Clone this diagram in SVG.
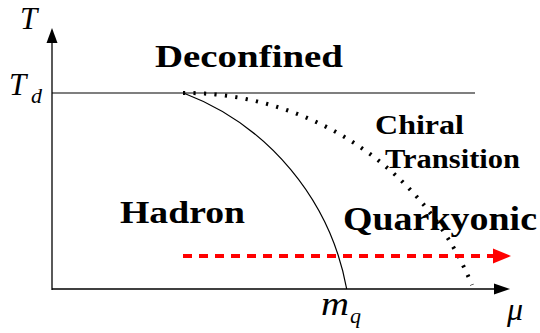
<svg xmlns="http://www.w3.org/2000/svg" width="540" height="333" viewBox="0 0 540 333">
<style>
.ax{stroke:#000;stroke-width:1.3;fill:none}
.thin{stroke:#000;stroke-width:1.2;fill:none}
.dot{stroke:#000;stroke-width:4;fill:none;stroke-dasharray:2.2 8.3}
.red{stroke:#ff0000;stroke-width:4;fill:none;stroke-dasharray:9 7}
.lbl{font-family:'Liberation Serif','DejaVu Serif',serif;font-weight:bold;fill:#000}
.math{font-family:'Liberation Serif','DejaVu Serif',serif;font-style:italic;fill:#000}
</style>
<rect width="540" height="333" fill="#fff"/>
<g id="connectors">
  <line class="ax" x1="52" y1="290" x2="52" y2="42"/>
  <polygon points="52,28 46.5,43 57.5,43" fill="#000"/>
  <line class="ax" x1="52" y1="289" x2="495" y2="289"/>
  <polygon points="510,289 494,283.5 494,294.5" fill="#000"/>
  <line class="thin" x1="52" y1="93" x2="475" y2="93"/>
  <path class="thin" d="M183.5,93 A260,260 0 0,1 346.7,289"/>
  <path class="dot" d="M183,93 A310,310 0 0,1 472,285"/>
  <line class="red" x1="183" y1="256" x2="494" y2="256"/>
  <polygon points="511,256 493,248.5 493,263.5" fill="#ff0000"/>
</g>
<g id="axis-labels">
  <text class="math" x="20" y="29" font-size="31">T</text>
  <text class="math" x="9" y="95" font-size="31">T</text>
  <text class="math" x="31" y="102.5" font-size="22">d</text>
  <text class="math" x="321" y="315" font-size="33" textLength="28" lengthAdjust="spacingAndGlyphs">m</text>
  <text class="math" x="350" y="323" font-size="22">q</text>
  <text class="math" x="507" y="320" font-size="32">μ</text>
</g>
<g id="deconfined"><text class="lbl" x="155" y="67" font-size="32" textLength="188" lengthAdjust="spacingAndGlyphs">Deconfined</text></g>
<g id="chiral"><text class="lbl" x="375" y="134" font-size="28" textLength="89" lengthAdjust="spacingAndGlyphs">Chiral</text>
<text class="lbl" x="385" y="168" font-size="28" textLength="135" lengthAdjust="spacingAndGlyphs">Transition</text></g>
<g id="hadron"><text class="lbl" x="120" y="223" font-size="32" textLength="125" lengthAdjust="spacingAndGlyphs">Hadron</text></g>
<g id="quarkyonic"><text class="lbl" x="343" y="230" font-size="34" textLength="194" lengthAdjust="spacingAndGlyphs">Quarkyonic</text></g>
</svg>
